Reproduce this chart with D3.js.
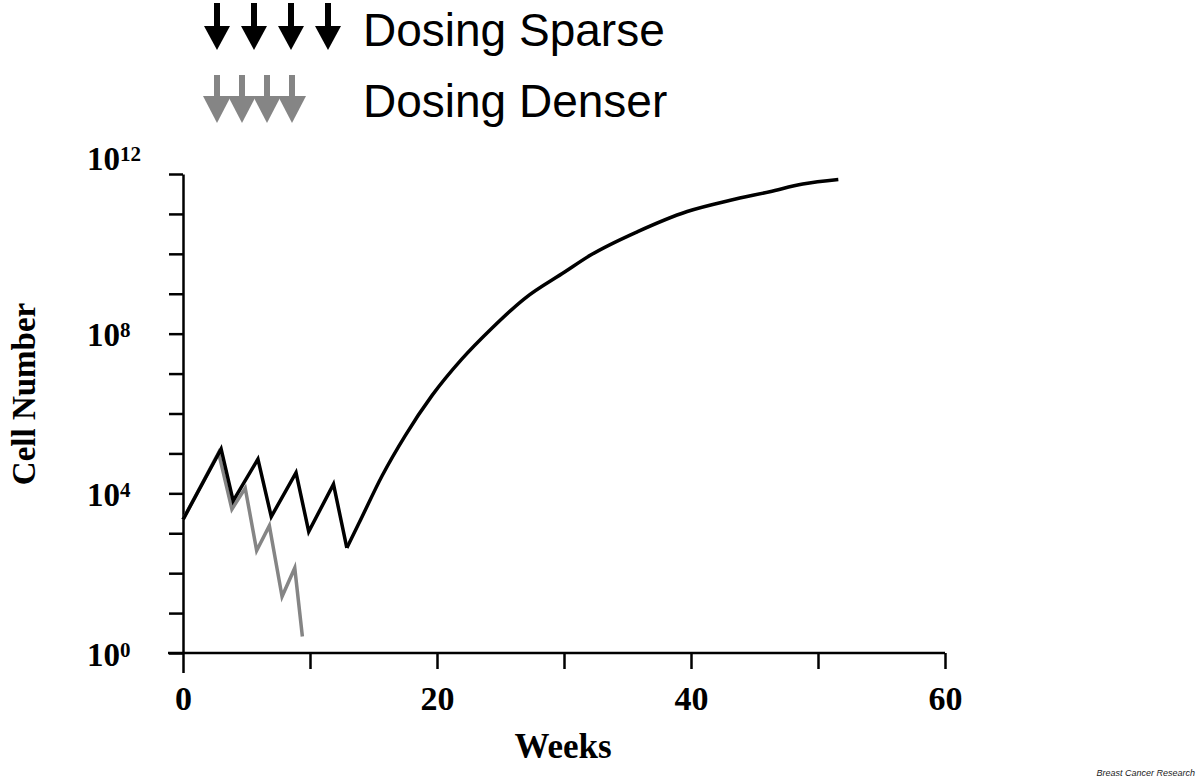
<!DOCTYPE html>
<html>
<head>
<meta charset="utf-8">
<script src="https://cdn.jsdelivr.net/npm/d3@7"></script>
<style>
  body { margin: 0; background: #fff; }
  svg { display: block; }
  .axis path, .axis line { stroke: #000; stroke-width: 2.5; }
  .tick-label { font-family: "Liberation Serif", "Times New Roman", serif; font-weight: bold; fill: #000; }
  .legend-text { font-family: "Liberation Sans", Arial, Helvetica, sans-serif; font-size: 46px; fill: #000; }
</style>
</head>
<body>
<div id="chart"></div>
<script>
// sparse dosing schedule (weeks / cell number)
var sparseWeeks = [0, 3, 3.95, 5.9, 6.95, 8.9, 9.9, 11.85, 12.9, 13.86, 15.69, 17.5, 19.6,
  21.95, 24.3, 26.9, 30.05, 32.1, 35.8, 39.7, 43.1, 46.2, 48.8, 51.6];
var sparseCells = [2.2e3, 1.3e5, 6.5e3, 7.2e4, 2.6e3, 3.3e4, 1.1e3, 1.7e4, 4.3e2, 1.8e3, 2.8e4, 2.8e5, 2.8e6,
  2.3e7, 1.35e8, 7.6e8, 3.5e9, 9.3e9, 3.6e10, 1.15e11, 2.2e11, 3.6e11, 5.6e11, 7.3e11];

// denser dosing schedule
var denseWeeks = [0, 2.8, 3.85, 4.9, 5.8, 6.8, 7.8, 8.8, 9.4];
var denseCells = [2.2e3, 1.05e5, 4.0e3, 1.35e4, 3.7e2, 1.55e3, 2.6e1, 1.35e2, 2.6e0];

var xTicks = [0, 10, 20, 30, 40, 50, 60];
var xLabels = [0, 20, 40, 60];
var yExponents = [0, 1, 2, 3, 4, 5, 6, 7, 8, 9, 10, 11, 12];
var yLabelExponents = [0, 4, 8, 12];

var legendNames = ["Dosing Sparse", "Dosing Denser"];
var legendColors = ["#000", "#858585"];

var svgWidth = 1200;
var svgHeight = 778;

var svg = d3.select("#chart")
  .append("svg")
  .attr("width", svgWidth)
  .attr("height", svgHeight);

var x = d3.scaleLinear()
  .domain([0, 60])
  .range([183, 945]);

var y = d3.scaleLog()
  .domain([1, 1e12])
  .range([653, 174]);

// x axis
var xAxis = svg.append("g")
  .attr("class", "axis")
  .attr("transform", "translate(0,653)")
  .call(d3.axisBottom(x).tickValues(xTicks).tickSize(16).tickSizeOuter(0).tickFormat(""));

xAxis.select(".domain").attr("d", "M168,0H945");
xAxis.selectAll(".tick")
  .filter(d => d === 0)
  .select("line").attr("y2", 20);

xAxis.selectAll(".tick")
  .filter(d => xLabels.indexOf(d) > -1)
  .append("text")
  .attr("class", "tick-label")
  .attr("y", 57)
  .attr("text-anchor", "middle")
  .style("font-size", "34px")
  .text(d => d);

// y axis
var yAxis = svg.append("g")
  .attr("class", "axis")
  .attr("transform", "translate(183,0)")
  .call(d3.axisLeft(y).tickValues(yExponents.map(e => Math.pow(10, e))).tickSize(14).tickSizeOuter(0).tickFormat(""));

var yLab = yAxis.selectAll(".tick")
  .filter(d => yLabelExponents.indexOf(Math.round(Math.log10(d))) > -1)
  .append("text")
  .attr("class", "tick-label")
  .attr("x", -96)
  .attr("y", d => d === 1e12 ? -5 : 12)
  .attr("text-anchor", "start")
  .style("font-size", "33px");

yLab.append("tspan").text("10");
yLab.append("tspan")
  .attr("dy", -9)
  .style("font-size", "21px")
  .text(d => Math.round(Math.log10(d)));

// axis titles
svg.append("text")
  .attr("class", "tick-label")
  .attr("transform", "translate(35,394) rotate(-90)")
  .attr("text-anchor", "middle")
  .style("font-size", "33px")
  .text("Cell Number");

svg.append("text")
  .attr("class", "tick-label")
  .attr("x", 563)
  .attr("y", 758)
  .attr("text-anchor", "middle")
  .style("font-size", "35px")
  .text("Weeks");

// lines
var line = d3.line()
  .x(d => x(d[0]))
  .y(d => y(d[1]));

var smoothLine = d3.line()
  .x(d => x(d[0]))
  .y(d => y(d[1]))
  .curve(d3.curveMonotoneX);

var sparse = sparseWeeks.map((w, i) => [w, sparseCells[i]]);
var dense = denseWeeks.map((w, i) => [w, denseCells[i]]);

svg.append("path")
  .datum(dense)
  .attr("d", line)
  .attr("fill", "none")
  .attr("stroke", legendColors[1])
  .attr("stroke-width", 3.5);

// zigzag dosing part, then smooth regrowth after the last dose
var lastDose = 8;
svg.append("path")
  .datum(sparse.slice(0, lastDose + 1))
  .attr("d", line)
  .attr("fill", "none")
  .attr("stroke", legendColors[0])
  .attr("stroke-width", 3.5);

svg.append("path")
  .datum(sparse.slice(lastDose))
  .attr("d", smoothLine)
  .attr("fill", "none")
  .attr("stroke", legendColors[0])
  .attr("stroke-width", 3.5);

// legend arrows
function drawArrow(g, cx, top, headTop, tip, halfW, color) {
  g.append("rect")
    .attr("x", cx - 3)
    .attr("y", top)
    .attr("width", 6)
    .attr("height", headTop - top + 1)
    .attr("fill", color);
  g.append("path")
    .attr("d", `M${cx - halfW},${headTop}L${cx + halfW},${headTop}L${cx},${tip}Z`)
    .attr("fill", color);
}

var legend = svg.append("g");
[217, 254, 291, 328].forEach(cx => drawArrow(legend, cx, 3, 26, 50, 13, legendColors[0]));
[217, 242, 267, 292].forEach(cx => drawArrow(legend, cx, 75, 96, 123, 14, legendColors[1]));

legend.selectAll(".legend-text")
  .data(legendNames)
  .enter()
  .append("text")
  .attr("class", "legend-text")
  .attr("x", 363)
  .attr("y", (d, i) => 46 + i * 71)
  .text(d => d);

svg.append("text")
  .attr("x", 1195)
  .attr("y", 776)
  .attr("text-anchor", "end")
  .style("font-family", "Liberation Sans, Arial, sans-serif")
  .style("font-style", "italic")
  .style("font-size", "9px")
  .style("fill", "#222")
  .text("Breast Cancer Research");
</script>
</body>
</html>
